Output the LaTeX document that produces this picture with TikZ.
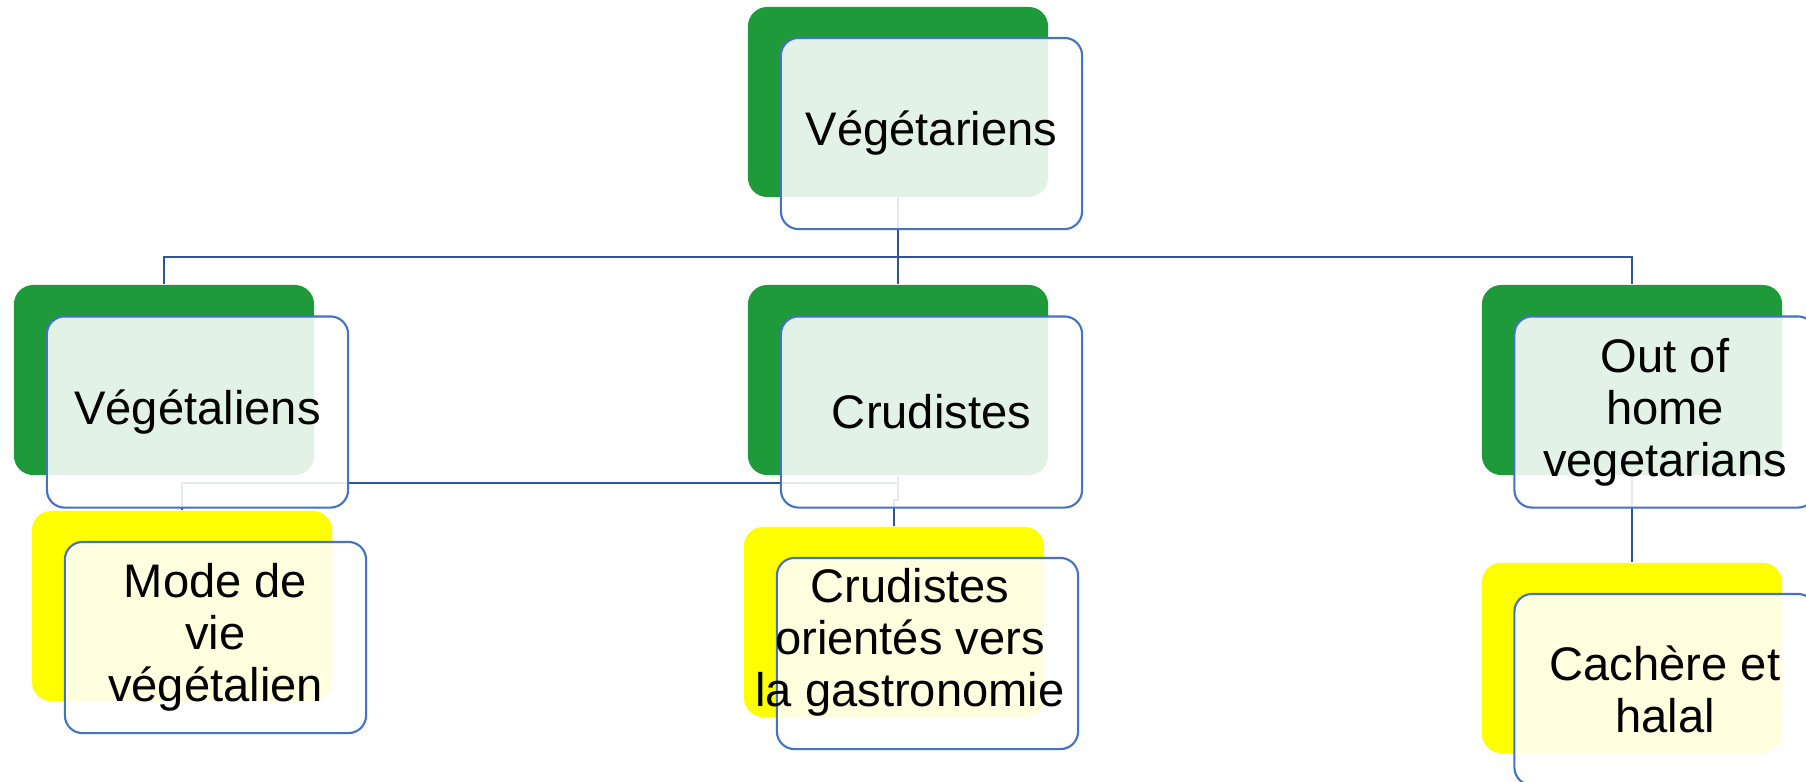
\documentclass[tikz,border=0pt]{standalone}
\usepackage{fontspec}
\setmainfont{Liberation Sans}
\usetikzlibrary{backgrounds}

\definecolor{leafgreen}{HTML}{1E9A3A}
\definecolor{leafyellow}{HTML}{FFFF00}
\definecolor{boxblue}{HTML}{4472C4}
\definecolor{linkblue}{HTML}{2F5597}

\tikzset{
  back/.style={rectangle, rounded corners=5.5pt, minimum width=3cm, minimum height=1.9cm, inner sep=0pt},
  greenback/.style={back, fill=leafgreen},
  yellowback/.style={back, fill=leafyellow},
  label text/.style={align=center, inner sep=0pt, font=\fontsize{13.4}{14.8}\selectfont},
  front/.style={rectangle, rounded corners=5pt, draw=boxblue, line width=0.6pt, fill=white, fill opacity=0.88, text opacity=1, minimum width=3.01cm, minimum height=1.91cm, label text},
  link/.style={draw=linkblue, line width=0.6pt}
}

\begin{document}
\begin{tikzpicture}[x=0.01cm,y=-0.01cm]
  \clip (0,0) rectangle (1806,781);

  % top
  \node[greenback] (veg-back) at (898,102) {};
  \node[front] (veg) at (931.5,133.5) {Végétariens};

  % second row
  \node[greenback] (vegl-back) at (164,380) {};
  \node[front] (vegl) at (197.5,412) {Végétaliens};
  \node[greenback] (crud-back) at (898,380) {};
  \node[front] (crud) at (931.5,412) {Crudistes};
  \node[greenback] (out-back) at (1632,380) {};
  \node[front] (out) at (1665,412) {Out of\\home\\vegetarians};

  % third row
  \node[yellowback] (mode-back) at (182,606) {};
  \node[front] (mode) at (215.5,637.5) {Mode de\\vie\\végétalien};
  \node[yellowback] (gast-back) at (894,622) {};
  \node[front] (gast) at (927.5,653.5) {};
  \node[label text] (gast-txt) at (910,642) {Crudistes\\orientés vers\\la gastronomie};
  \node[yellowback] (cash-back) at (1632,658) {};
  \node[front] (cash) at (1665,689.5) {Cachère et\\halal};

  \begin{scope}[on background layer]
    \coordinate (hub) at (898,257);
    \draw[link] (veg-back.south) -- (hub);
    \draw[link] (vegl-back.north) |- (hub) -| (out-back.north);
    \draw[link] (hub) -- (crud-back.north);
    \draw[link] (crud-back.south) -- ++(0,7) -| (mode-back.north);
    \draw[link] (crud-back.south) -- ++(0,24) -| (gast-back.north);
    \draw[link] (out-back.south) -- (cash-back.north);
  \end{scope}
\end{tikzpicture}
\end{document}
